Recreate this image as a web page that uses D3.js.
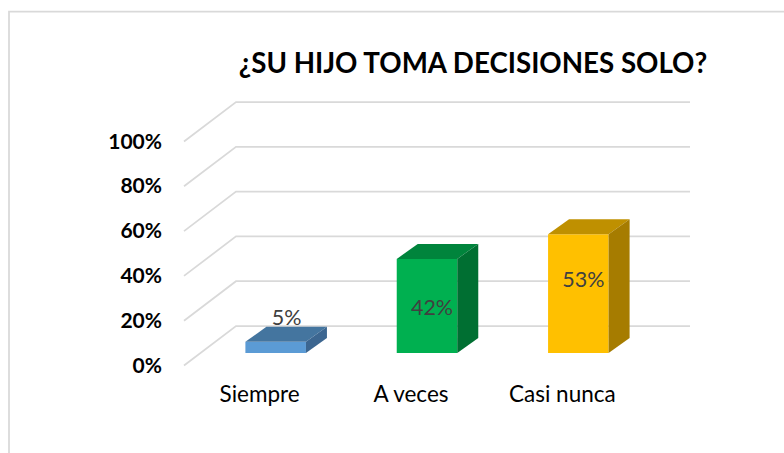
<!DOCTYPE html>
<meta charset="utf-8">
<style>
  html, body { margin: 0; padding: 0; background: #fff; }
  svg { display: block; }
  text { font-family: Lato, "Open Sans", sans-serif; }
</style>
<svg width="784" height="453"></svg>
<script src="https://d3js.org/d3.v7.min.js"></script>
<script>
var categories = ["Siempre", "A veces", "Casi nunca"];
var values = [0.05, 0.42, 0.53];
var valueLabels = ["5%", "42%", "53%"];
var ticks = [0, 0.2, 0.4, 0.6, 0.8, 1];
var title = "¿SU HIJO TOMA DECISIONES SOLO?";

var front = ["#5b9bd5", "#00b050", "#ffc000"];
var topFace = ["#44759f", "#00843c", "#bf9000"];
var side = ["#3c6690", "#006f32", "#a67c00"];

var svg = d3.select("svg");

// Chart border, only top and left are in the picture
svg.append("polyline")
    .attr("points", "9,453 9,11.5 784,11.5")
    .attr("fill", "none")
    .attr("stroke", "#d9d9d9")
    .attr("stroke-width", 1.75);

// Scales (back wall for y, floor at the bars' front for x)
var y = d3.scaleLinear().domain([0, 1]).range([326, 102]);
var x = d3.scaleBand()
    .domain(categories)
    .range([200, 654])
    .paddingInner(0.6)
    .paddingOuter(0.3);

var wallDx = 52, wallDy = -39.5;   // floor depth
var barDx = 21, barDy = -15;       // bar depth
var barShift = 27;                 // wall base to bar front base

// Gridlines
svg.append("g").selectAll("polyline")
    .data(ticks)
    .enter().append("polyline")
    .attr("points", function (d) {
      return [[184, y(d) - wallDy], [184 + wallDx, y(d)], [690, y(d)]].join(" ");
    })
    .attr("fill", "none")
    .attr("stroke", "#d9d9d9")
    .attr("stroke-width", 1.75);

// Y tick labels
svg.append("g").selectAll("text")
    .data(ticks)
    .enter().append("text")
    .attr("x", 162)
    .attr("y", function (d) { return y(d) - wallDy + 7; })
    .attr("text-anchor", "end")
    .attr("font-size", 21)
    .attr("font-weight", "bold")
    .attr("fill", "#000")
    .text(d3.format(".0%"));

// Bars
var bars = svg.append("g").selectAll("g")
    .data(categories)
    .enter().append("g");

function barTop(i) { return y(values[i]) + barShift; }

bars.append("rect")
    .attr("x", function (d) { return x(d); })
    .attr("y", function (d, i) { return barTop(i); })
    .attr("width", x.bandwidth())
    .attr("height", function (d, i) { return y(0) - y(values[i]); })
    .attr("fill", function (d, i) { return front[i]; });

bars.append("polygon")
    .attr("points", function (d, i) {
      var l = x(d), r = l + x.bandwidth(), t = barTop(i);
      return [[l, t], [l + barDx, t + barDy], [r + barDx, t + barDy], [r, t]].join(" ");
    })
    .attr("fill", function (d, i) { return topFace[i]; });

bars.append("polygon")
    .attr("points", function (d, i) {
      var r = x(d) + x.bandwidth(), t = barTop(i), b = y(0) + barShift;
      return [[r, t], [r + barDx, t + barDy], [r + barDx, b + barDy], [r, b]].join(" ");
    })
    .attr("fill", function (d, i) { return side[i]; });

// Value labels, nudged off the bar tops like the original
var labelDx = [11, 5, 5];
var labelDy = [-17, 56, 53];
bars.append("text")
    .attr("x", function (d, i) { return x(d) + x.bandwidth() / 2 + labelDx[i]; })
    .attr("y", function (d, i) { return barTop(i) + labelDy[i]; })
    .attr("text-anchor", "middle")
    .attr("font-size", 21.5)
    .attr("fill", "#404040")
    .text(function (d, i) { return valueLabels[i]; });

// Category labels
bars.append("text")
    .attr("x", function (d) { return x(d) + x.bandwidth() / 2 - 16; })
    .attr("y", 402)
    .attr("text-anchor", "middle")
    .attr("font-size", 22.5)
    .attr("fill", "#000")
    .text(function (d) { return d; });

// Title
svg.append("text")
    .attr("x", 473)
    .attr("y", 73)
    .attr("text-anchor", "middle")
    .attr("font-size", 27.7)
    .attr("font-weight", "bold")
    .attr("fill", "#000")
    .text(title);
</script>
